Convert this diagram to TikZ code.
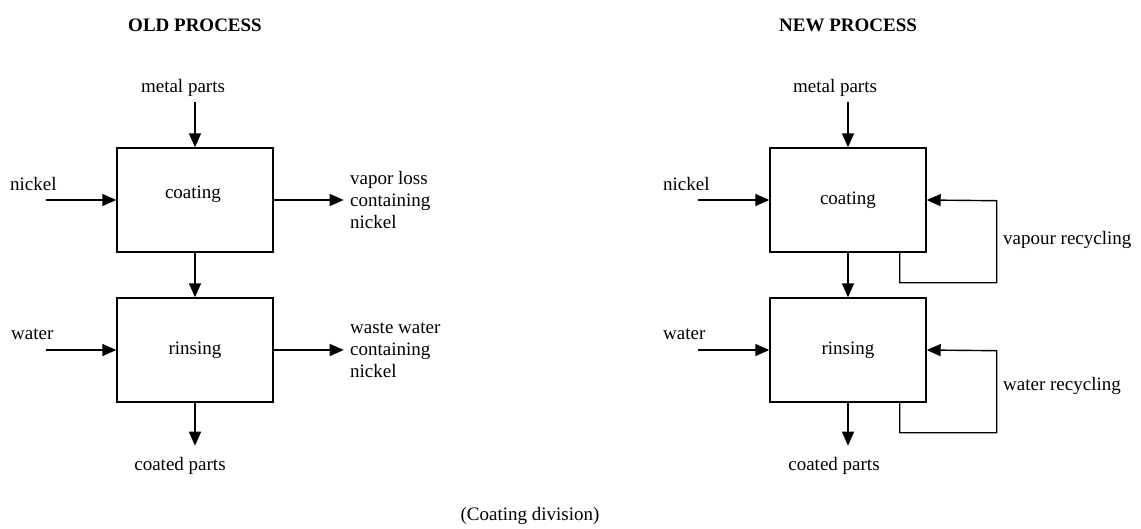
\documentclass[tikz,border=0pt]{standalone}
\usepackage{fontspec}
\setmainfont{Liberation Serif}
\usetikzlibrary{arrows.meta,positioning}
\tikzset{
  proc/.style={draw,line width=1.4pt,minimum width=156pt,minimum height=104pt,inner sep=0pt,font=\fontsize{19}{22}\selectfont},
  flow/.style={line width=1.4pt,line join=miter,arrows=-{Triangle[length=14pt,width=12pt]}},
  lbl/.style={inner sep=0pt,font=\fontsize{19}{22}\selectfont},
  ttl/.style={inner sep=0pt,font=\fontsize{19}{22}\selectfont\bfseries}
}
\begin{document}
\begin{tikzpicture}[x=1pt,y=-1pt]
\useasboundingbox (0,0) rectangle (1141,528);
% old process
\node[ttl] (oldttl) at (195,25) {OLD PROCESS};
\node[proc] (coat) at (195,200) {};
\node[lbl] (coattxt) at (193,194) {coating};
\node[proc] (rinse) at (195,350) {rinsing};
\node[lbl] (metal) at (183,88) {metal parts};
\node[lbl,anchor=west] (nickel) at (10,184) {nickel};
\node[lbl,anchor=west] (water) at (11,334) {water};
\node[lbl,anchor=west,align=left] (vapor) at (350,200) {vapor loss\\containing\\nickel};
\node[lbl,anchor=west,align=left] (waste) at (350,350) {waste water\\containing\\nickel};
\node[lbl] (coated) at (180,466) {coated parts};
\coordinate (metalin) at (195,102);
\coordinate (nickelin) at (46,200);
\coordinate (waterin) at (46,350);
\draw[flow] (metalin) -- (coat.north);
\draw[flow] (nickelin) -- (coat.west);
\draw[flow] (coat.east) -- ++(70,0);
\draw[flow] (coat.south) -- (rinse.north);
\draw[flow] (waterin) -- (rinse.west);
\draw[flow] (rinse.east) -- ++(70,0);
\draw[flow] (rinse.south) -- ++(0,43);
% new process
\node[ttl] (newttl) at (848,25) {NEW PROCESS};
\node[proc] (coat2) at (848,200) {coating};
\node[proc] (rinse2) at (848,350) {rinsing};
\node[lbl] (metal2) at (835,88) {metal parts};
\node[lbl,anchor=west] (nickel2) at (663,184) {nickel};
\node[lbl,anchor=west] (water2) at (663,334) {water};
\node[lbl,anchor=west] (vrec) at (1003,240) {vapour recycling};
\node[lbl,anchor=west] (wrec) at (1003,386) {water recycling};
\node[lbl] (coated2) at (834,466) {coated parts};
\coordinate (metalin2) at (848,102);
\coordinate (nickelin2) at (698,200);
\coordinate (waterin2) at (698,350);
\draw[flow] (metalin2) -- (coat2.north);
\draw[flow] (nickelin2) -- (coat2.west);
\draw[flow] (coat2.south) -- (rinse2.north);
\draw[flow] (waterin2) -- (rinse2.west);
\draw[flow] (rinse2.south) -- ++(0,43);
\draw[flow] ([xshift=-27pt]coat2.south east) -- ++(0,30) -| ++(97,-82) -- (coat2.east);
\draw[flow] ([xshift=-27pt]rinse2.south east) -- ++(0,30) -| ++(97,-82) -- (rinse2.east);
\node[lbl] (division) at (530,516) {(Coating division)};
\end{tikzpicture}
\end{document}
